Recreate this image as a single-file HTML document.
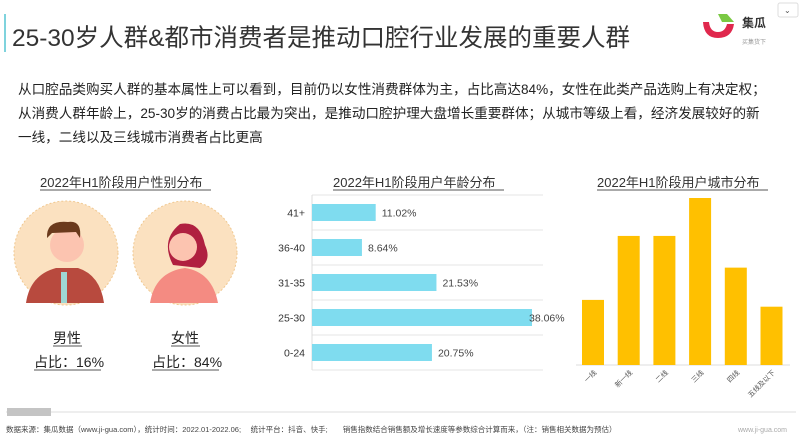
<!DOCTYPE html>
<html><head><meta charset="utf-8"><style>
body{margin:0;width:800px;height:440px;overflow:hidden;background:#fff;font-family:"Liberation Sans","Noto Sans CJK SC",sans-serif;}
svg text{font-family:"Liberation Sans","Noto Sans CJK SC",sans-serif;}
</style></head><body>
<svg id="s" width="800" height="440" viewBox="0 0 800 440">
<rect x="4" y="14" width="2" height="38" fill="#7fd3dd"/>
<text x="12" y="46" font-size="24.5" fill="#333">25-30岁人群&amp;都市消费者是推动口腔行业发展的重要人群</text>
<g>
<path d="M703 22 Q704 38 718 38 Q732 38 734 24 L727 24 Q725 32 718 32 Q710 32 709 22 Z" fill="#e0284d"/>
<path d="M718 14 L727 14 L734 22 L722 22 Z" fill="#7ac943"/>
<text x="742" y="27" font-size="12" font-weight="bold" fill="#333">集瓜</text>
<text x="742" y="44" font-size="6" fill="#999">买集货下</text>
</g>
<rect x="778" y="3" width="20" height="14" fill="#fff" stroke="#ddd" rx="2"/>
<text x="784" y="13" font-size="8" fill="#555">⌄</text>
<g font-size="13.6" fill="#222">
<text x="18" y="94">从口腔品类购买人群的基本属性上可以看到，目前仍以女性消费群体为主，占比高达84%，女性在此类产品选购上有决定权；</text>
<text x="18" y="118">从消费人群年龄上，25-30岁的消费占比最为突出，是推动口腔护理大盘增长重要群体；从城市等级上看，经济发展较好的新</text>
<text x="18" y="142">一线，二线以及三线城市消费者占比更高</text>
</g>
<g>
<text x="40" y="187" font-size="13" fill="#333">2022年H1阶段用户性别分布</text>
<line x1="40" y1="190" x2="211" y2="190" stroke="#555" stroke-width="1"/>
<circle cx="66" cy="253" r="52" fill="#fbe1c0" stroke="#f0c890" stroke-dasharray="2 2"/>
<path d="M26 303 Q30 275 56 268 L78 268 Q100 275 104 303 Z" fill="#b84a3e"/>
<rect x="61" y="272" width="6" height="31" fill="#9fd8d4"/>
<circle cx="67" cy="245" r="17" fill="#fcc4b0"/>
<path d="M47 238 Q46 220 68 222 Q82 220 80 238 L76 232 L52 233 Z" fill="#6b3a1c"/>
<circle cx="185" cy="253" r="52" fill="#fbe1c0" stroke="#f0c890" stroke-dasharray="2 2"/>
<path d="M150 303 Q155 272 185 268 Q212 272 218 303 Z" fill="#f48b82"/>
<path d="M173 265 Q160 240 180 224 Q200 220 205 245 Q212 260 200 268 Z" fill="#b02040"/>
<circle cx="183" cy="247" r="14" fill="#fcc4b0"/>
<text x="53" y="343" font-size="14" fill="#222">男性</text>
<line x1="53" y1="346" x2="82" y2="346" stroke="#555"/>
<text x="34" y="367" font-size="14" fill="#222">占比：16%</text>
<line x1="34" y1="370" x2="101" y2="370" stroke="#555"/>
<text x="171" y="343" font-size="14" fill="#222">女性</text>
<line x1="171" y1="346" x2="200" y2="346" stroke="#555"/>
<text x="152" y="367" font-size="14" fill="#222">占比：84%</text>
<line x1="152" y1="370" x2="219" y2="370" stroke="#555"/>
</g>
<text x="333" y="187" font-size="13" fill="#333">2022年H1阶段用户年龄分布</text>
<line x1="333" y1="190" x2="504" y2="190" stroke="#555"/>
<g id="age"></g>
<text x="597" y="187" font-size="13" fill="#333">2022年H1阶段用户城市分布</text>
<line x1="597" y1="190" x2="768" y2="190" stroke="#555"/>
<g id="city"></g>
<line x1="6" y1="412" x2="796" y2="412" stroke="#ddd"/>
<rect x="7" y="408" width="44" height="8" fill="#c4c4c4"/>
<text x="6" y="432" font-size="7.5" fill="#444">数据来源：集瓜数据（www.ji-gua.com），统计时间：2022.01-2022.06;　 统计平台：抖音、快手;　　销售指数结合销售额及增长速度等参数综合计算而来，（注：销售相关数据为预估）</text>
<text x="738" y="432" font-size="7" fill="#aaa">www.ji-gua.com</text>
</svg>
<script>
const ageCats=["41+","36-40","31-35","25-30","0-24"];
const ageVals=[11.02,8.64,21.53,38.06,20.75];
const ageLabels=["11.02%","8.64%","21.53%","38.06%","20.75%"];
const cityCats=["一线","新一线","二线","三线","四线","五线及以下"];
const cityVals=[11.5,22.8,22.8,29.5,17.2,10.3];
const NS="http://www.w3.org/2000/svg";
function mk(p,t,a){const e=document.createElementNS(NS,t);for(const k in a)e.setAttribute(k,a[k]);p.appendChild(e);return e;}
const ag=document.getElementById('age');
const ax0=312,ay0=195,band=35,pxPer=220/38.06;
const ax=v=>ax0+v*pxPer;
for(let i=0;i<=ageCats.length;i++){const gl=mk(ag,'line',{x1:ax0,x2:543,y1:ay0+i*band,y2:ay0+i*band,stroke:'#e4e4e4'});

}
mk(ag,'line',{x1:ax0,x2:ax0,y1:ay0,y2:ay0+band*5,stroke:'#ddd'});
ageCats.forEach((c,i)=>{const cy=ay0+band*i+band/2;
const b=mk(ag,'rect',{x:ax0,y:cy-8.5,width:ax(ageVals[i])-ax0,height:17,fill:'#7fdcef'});


const l=mk(ag,'text',{x:305,y:cy+4,'font-size':10.5,fill:'#333','text-anchor':'end'});l.textContent=c;


const isMax=ageVals[i]===Math.max(...ageVals);
const v=mk(ag,'text',{x:isMax?ax(ageVals[i])-3:ax(ageVals[i])+6,y:cy+4,'font-size':10.5,fill:'#444'});v.textContent=ageLabels[i];

});
const cg=document.getElementById('city');
const base=365,cx0=575,step=35.7,bw=22,cScale=167/29.5;
const cy=v=>base-v*cScale;
mk(cg,'line',{x1:576,x2:790,y1:base,y2:base,stroke:'#ddd'});
cityCats.forEach((c,i)=>{const x=cx0+step*i+7;
const b=mk(cg,'rect',{x:x,y:cy(cityVals[i]),width:bw,height:base-cy(cityVals[i]),fill:'#ffc000'});


const t=mk(cg,'text',{x:0,y:0,'font-size':7,fill:'#555','text-anchor':'end',transform:`translate(${x+bw/2+4},${base+8}) rotate(-45)`});t.textContent=c;

});
</script>
</body></html>
